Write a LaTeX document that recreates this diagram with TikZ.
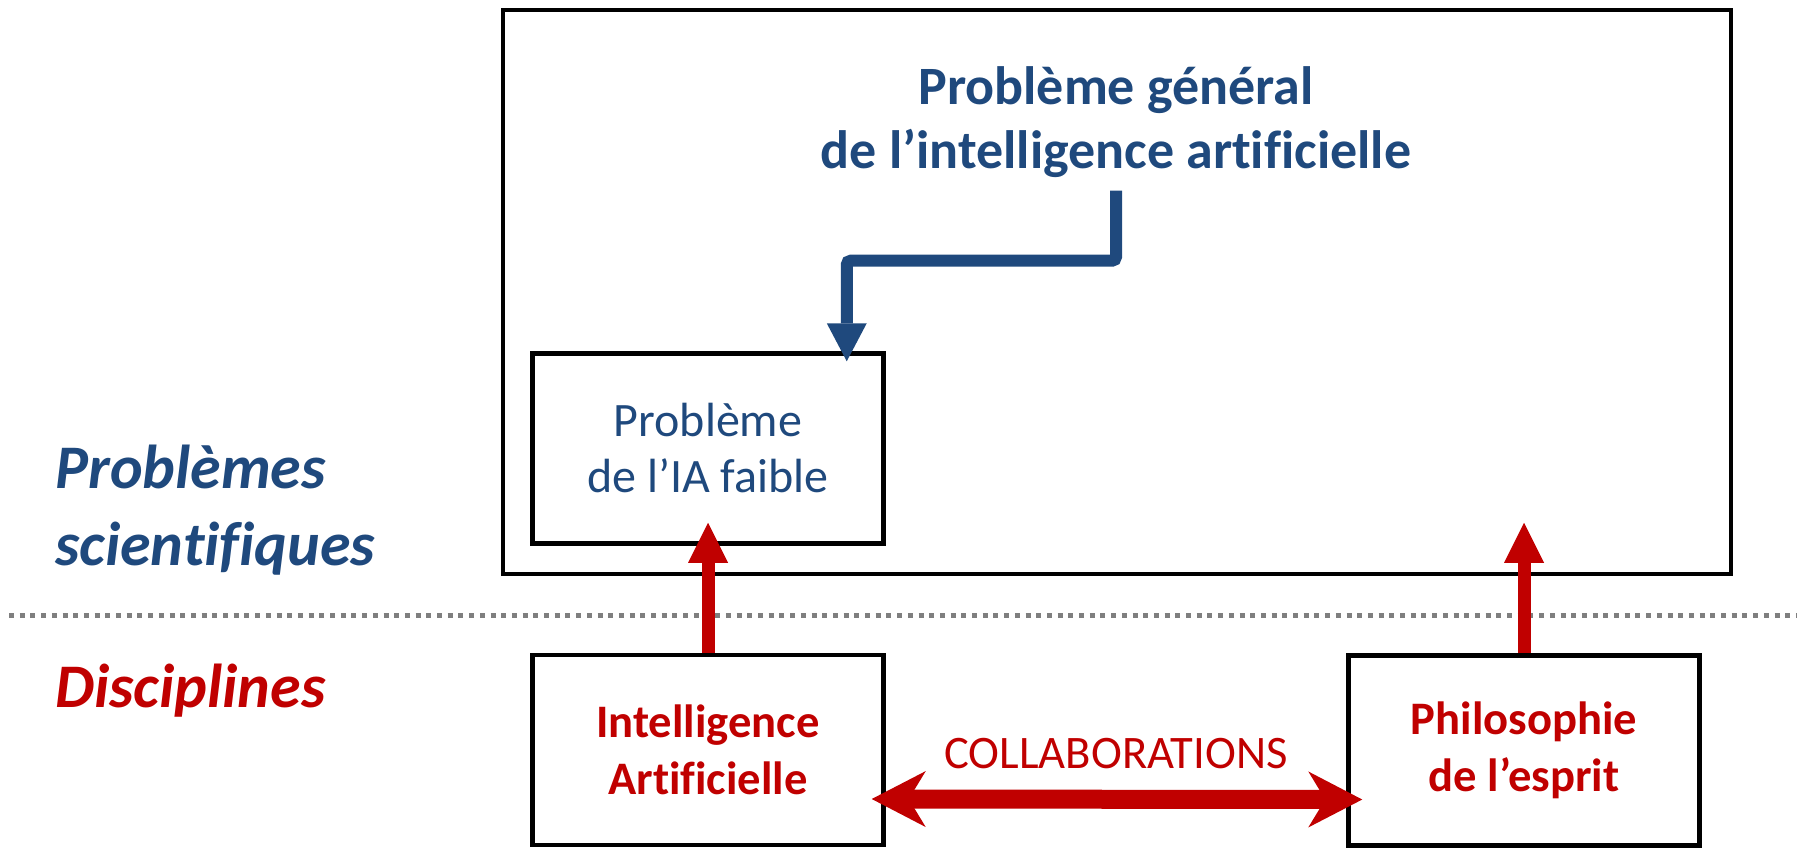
\documentclass[tikz,border=0pt]{standalone}
\usepackage{fontspec}
\setmainfont{Carlito}[Ligatures=CommonOff]
\usepackage{xcolor}
\usepackage{tikz}
\usetikzlibrary{arrows.meta,positioning}
\definecolor{navy}{HTML}{1F497D}
\definecolor{crimson}{HTML}{C00000}
\definecolor{dotgray}{HTML}{7F7F7F}
\tikzset{
  panel/.style={rectangle,draw=black,line width=4.5pt,minimum width=351pt,
    minimum height=190pt,align=center,inner sep=0pt},
  problem/.style={panel,text=navy,font=\fontsize{48}{56}\selectfont},
  discipline/.style={panel,text=crimson,font=\fontsize{46.6}{57}\selectfont\bfseries},
  sidelabel/.style={inner sep=0pt,align=left,font=\fontsize{62}{77}\selectfont\bfseries\itshape},
  uparrow/.style={-{Triangle[length=40pt,width=40pt,line width=0pt]},line width=13pt,draw=crimson},
  downarrow/.style={-{Triangle[length=38pt,width=40pt,line width=0pt]},line width=12pt,
    draw=navy,rounded corners=4pt},
  twoway/.style={{Stealth[length=54pt,width=56pt,inset=17pt,line width=0pt]}-{Stealth[length=54pt,width=56pt,inset=17pt,line width=0pt]},
    line width=19pt,draw=crimson}
}

\begin{document}
\begin{tikzpicture}[x=1pt,y=-1pt]
\useasboundingbox (0,0) rectangle (1806,847);
% frame of the scientific problems
\node[panel,minimum width=1228pt,minimum height=564pt] (general) at (1117,292) {};
\node[text=navy,align=center,inner sep=13pt,font=\fontsize{54}{64}\selectfont\bfseries] (title)
  at (1116,122) {Problème général\\de l’intelligence artificielle};
\node[problem] (weak) at (708,448.5) {Problème\\de l’IA faible};
% disciplines
\node[discipline] (ai) at (708,750) {Intelligence\\Artificielle};
\node[discipline] (philo) at (1524,750.5) {Philosophie\\de l’esprit};
% row labels
\node[sidelabel,text=navy,anchor=west] (sci) at (55,510) {Problèmes\\scientifiques};
\node[sidelabel,text=crimson,anchor=base west] (disc) at (55,707) {Disciplines};
% separator
\draw[dotgray,line width=5pt,dash pattern=on 5pt off 5.7pt] (9,615) -- (1797,615);
% arrows
\draw[downarrow,shorten >=-10pt] (title.south) -- ++(0,70) -| ([xshift=-39pt]weak.north east);
\draw[uparrow,shorten >=-23pt] (ai) -- (weak);
\draw[uparrow,shorten >=-23pt] (philo.north) -- (philo.north |- weak.south);
\draw[twoway,shorten <=-14pt,shorten >=-16pt] ([yshift=-49pt]ai.east) --
  node[above=21pt,inner sep=0pt,text=crimson,font=\fontsize{46.6}{57}\selectfont] (collab)
  {COLLABORATIONS} ([yshift=-49pt]philo.west);
\end{tikzpicture}
\end{document}
